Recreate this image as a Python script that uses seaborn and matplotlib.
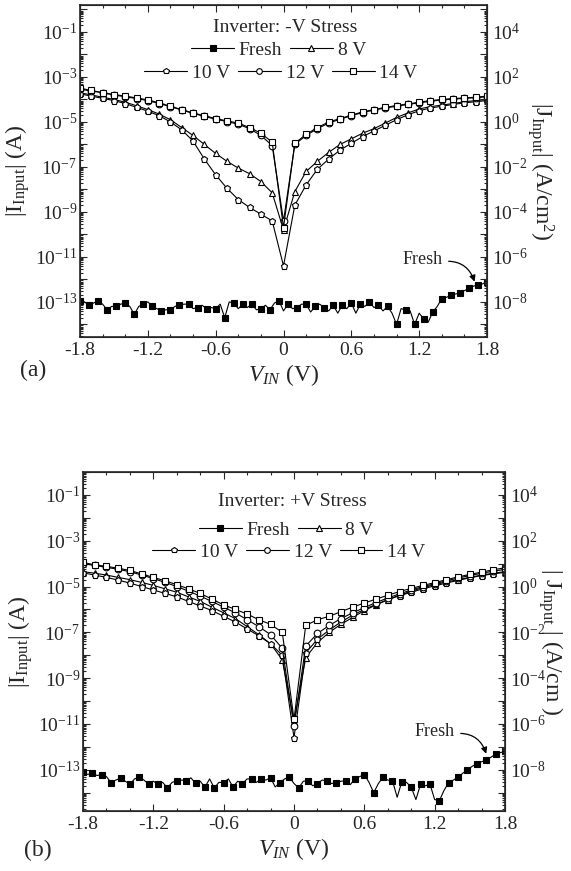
import numpy as np
import pandas as pd
import matplotlib
matplotlib.use("Agg")
import matplotlib.pyplot as plt
from matplotlib import ticker
import seaborn as sns

sns.set_style("ticks")
plt.rcParams["font.family"] = ["Liberation Serif", "DejaVu Serif"]
plt.rcParams["mathtext.fontset"] = "custom"
plt.rcParams["mathtext.rm"] = "Liberation Serif"
plt.rcParams["mathtext.it"] = "Liberation Serif:italic"
plt.rcParams["mathtext.bf"] = "Liberation Serif:bold"

# ---- data (log10 of |I_input| in A) ----
v_fresh = np.linspace(-1.8, 1.8, 91)      # 0.04 V steps
v_stress = np.linspace(-1.8, 1.8, 37)     # 0.1 V steps

# panel (a): -V stress
fresh_a = [-12.95, -13.0, -13.15, -13.05, -12.95, -13.1, -13.35, -13.2, -13.2, -13.1,
           -13.05, -13.2, -13.55, -13.2, -13.1, -13.0, -13.2, -13.3, -13.4, -13.35,
           -13.35, -13.2, -13.15, -13.1, -13.1, -13.3, -13.25, -13.15, -13.3, -13.25,
           -13.3, -13.1, -13.7, -13.0, -13.05, -13.3, -13.1, -13.25, -13.1, -13.35,
           -13.3, -13.15, -13.35, -13.05, -12.95, -13.4, -13.1, -13.3, -13.25, -13.1,
           -13.1, -13.45, -13.2, -13.1, -13.25, -13.4, -13.15, -13.5, -13.15, -13.3,
           -13.05, -13.5, -13.1, -13.2, -13.0, -13.25, -13.15, -13.4, -13.2, -13.5,
           -14.0, -13.3, -13.35, -13.4, -14.0, -13.5, -13.75, -13.9, -13.45, -13.2,
           -12.85, -12.8, -12.7, -12.65, -12.6, -12.5, -12.4, -12.3, -12.25, -12.2, -12.1]
v8_a = [-3.7, -3.8, -3.9, -4.0, -4.12, -4.28, -4.45, -4.65, -4.9, -5.25,
        -5.6, -6.0, -6.4, -6.75, -7.05, -7.3, -7.65, -8.15, -9.8, -8.1,
        -7.2, -6.75, -6.35, -6.0, -5.75, -5.5, -5.3, -5.05, -4.8, -4.6,
        -4.42, -4.32, -4.25, -4.18, -4.1, -4.05, -4.0]
v10_a = [-3.75, -3.85, -3.95, -4.05, -4.18, -4.35, -4.52, -4.72, -5.0, -5.35,
         -5.85, -6.65, -7.35, -7.95, -8.45, -8.8, -9.1, -9.4, -11.4, -8.7,
         -7.8, -7.1, -6.65, -6.25, -5.95, -5.65, -5.4, -5.15, -4.9, -4.68,
         -4.5, -4.38, -4.3, -4.22, -4.15, -4.1, -4.05]
v12_a = [-3.55, -3.62, -3.7, -3.8, -3.88, -3.96, -4.05, -4.18, -4.32, -4.47,
         -4.62, -4.75, -4.88, -4.98, -5.1, -5.3, -5.6, -6.05, -9.4, -6.0,
         -5.6, -5.3, -5.05, -4.88, -4.72, -4.58, -4.47, -4.38, -4.3, -4.22,
         -4.15, -4.08, -4.02, -3.98, -3.95, -3.92, -3.88]
v14_a = [-3.5, -3.6, -3.7, -3.78, -3.85, -3.93, -4.02, -4.15, -4.3, -4.45,
         -4.6, -4.72, -4.85, -4.95, -5.05, -5.25, -5.5, -5.9, -9.7, -5.95,
         -5.55, -5.25, -5.0, -4.85, -4.7, -4.55, -4.45, -4.35, -4.27, -4.2,
         -4.12, -4.05, -4.0, -3.96, -3.93, -3.9, -3.85]

# panel (b): +V stress
fresh_b = [-13.1, -13.2, -13.16, -13.25, -13.21, -13.3, -13.56, -13.45, -13.37, -13.5,
           -13.63, -13.4, -13.32, -13.45, -13.63, -13.5, -13.63, -13.55, -13.79, -13.55,
           -13.48, -13.45, -13.48, -13.35, -13.59, -13.5, -13.76, -13.4, -13.79, -13.55,
           -13.56, -13.4, -13.75, -13.5, -13.6, -13.4, -13.4, -13.55, -13.4, -13.45,
           -13.35, -13.75, -13.56, -13.4, -13.32, -13.6, -13.79, -13.5, -13.48, -13.7,
           -13.6, -13.45, -13.48, -13.6, -13.56, -13.5, -13.48, -13.65, -13.4, -13.3,
           -13.21, -13.55, -14.0, -13.6, -13.32, -13.45, -13.48, -14.2, -13.52, -13.55,
           -13.76, -14.3, -13.63, -13.7, -13.63, -14.3, -14.35, -13.9, -13.56, -13.45,
           -13.32, -13.15, -13.0, -12.85, -12.73, -12.65, -12.57, -12.45, -12.32, -12.25, -12.2]
v8_b = [-4.35, -4.42, -4.5, -4.6, -4.7, -4.82, -4.95, -5.1, -5.25, -5.45,
        -5.65, -5.9, -6.15, -6.4, -6.75, -7.1, -7.5, -8.2, -10.9, -8.1,
        -7.45, -7.0, -6.65, -6.35, -6.05, -5.8, -5.58, -5.38, -5.2, -5.05,
        -4.92, -4.8, -4.7, -4.6, -4.5, -4.42, -4.35]
v10_b = [-4.4, -4.5, -4.6, -4.72, -4.85, -5.0, -5.15, -5.3, -5.45, -5.65,
         -5.85, -6.05, -6.3, -6.55, -6.85, -7.15, -7.5, -8.0, -11.6, -7.9,
         -7.3, -6.9, -6.55, -6.25, -6.0, -5.78, -5.57, -5.4, -5.25, -5.1,
         -4.97, -4.85, -4.73, -4.62, -4.52, -4.45, -4.38]
v12_b = [-4.0, -4.08, -4.16, -4.25, -4.35, -4.5, -4.65, -4.82, -5.0, -5.2,
         -5.42, -5.65, -5.9, -6.15, -6.45, -6.75, -7.1, -7.7, -11.1, -7.6,
         -7.05, -6.7, -6.4, -6.15, -5.92, -5.7, -5.5, -5.32, -5.15, -5.0,
         -4.88, -4.75, -4.63, -4.52, -4.42, -4.33, -4.25]
v14_b = [-3.95, -4.05, -4.12, -4.2, -4.3, -4.45, -4.6, -4.75, -4.92, -5.1,
         -5.3, -5.55, -5.8, -6.0, -6.2, -6.45, -6.65, -7.0, -10.8, -6.7,
         -6.45, -6.3, -6.1, -5.9, -5.72, -5.55, -5.38, -5.22, -5.08, -4.95,
         -4.83, -4.7, -4.58, -4.47, -4.37, -4.27, -4.18]

area = 1e-5  # cm^2, J = I / area

styles = {
    "Fresh": dict(marker="s", markerfacecolor="black"),
    "8 V": dict(marker="^", markerfacecolor="white"),
    "10 V": dict(marker="p", markerfacecolor="white"),
    "12 V": dict(marker="o", markerfacecolor="white"),
    "14 V": dict(marker="s", markerfacecolor="white"),
}


def log_fmt(parity):
    def f(v, pos):
        e = int(np.round(np.log10(v)))
        if e % 2 == parity:
            return r"$\mathregular{10^{%d}}$" % e
        return ""
    return f


def setup_logaxis(a, parity):
    a.set_yscale("log")
    a.yaxis.set_major_locator(ticker.LogLocator(base=10, numticks=40))
    a.yaxis.set_minor_locator(ticker.LogLocator(base=10, subs=np.arange(2, 10), numticks=40))
    a.yaxis.set_major_formatter(ticker.FuncFormatter(log_fmt(parity)))
    a.yaxis.set_minor_formatter(ticker.NullFormatter())


def draw_panel(rect, fresh, s8, s10, s12, s14, ylog, title, ylab_r, rpad, tag, tagpos,
               leg_pos, fresh_txt, fresh_tip):
    ax = fig.add_axes(rect)
    series = [("Fresh", v_fresh, fresh), ("8 V", v_stress, s8), ("10 V", v_stress, s10),
              ("12 V", v_stress, s12), ("14 V", v_stress, s14)]
    for name, vv, vals in series:
        df = pd.DataFrame({"V": vv, "I": 10 ** np.array(vals)})
        sns.lineplot(data=df, x="V", y="I", ax=ax, color="black", linewidth=0.8,
                     markersize=4.8, markeredgecolor="black", markeredgewidth=0.8,
                     markevery=2 if name == "Fresh" else 1, estimator=None, sort=False,
                     label=name, legend=False, **styles[name])
    setup_logaxis(ax, 1)
    ax.set_xlim(-1.8, 1.8)
    ax.set_ylim(10 ** ylog[0], 10 ** ylog[1])

    ax.xaxis.set_major_locator(ticker.MultipleLocator(0.6))
    ax.xaxis.set_minor_locator(ticker.MultipleLocator(0.2))
    ax.xaxis.set_major_formatter(ticker.FuncFormatter(
        lambda v, p: "0" if abs(v) < 1e-9 else f"{v:.1f}"))
    ax.tick_params(which="both", direction="in", top=True, right=False, labelsize=14, width=0.8)
    ax.tick_params(axis="y", pad=2)
    ax.tick_params(which="major", length=5)
    ax.tick_params(which="minor", length=2.5)
    for s in ax.spines.values():
        s.set_linewidth(1.2)

    ax.set_xlabel(r"$V_{IN}$ (V)", fontsize=17, labelpad=2)
    ax.set_ylabel(r"|I$_{\mathregular{Input}}$| (A)", fontsize=17, labelpad=2)

    ax2 = ax.twinx()
    setup_logaxis(ax2, 0)
    ax2.set_ylim(10 ** ylog[0] / area, 10 ** ylog[1] / area)
    ax2.tick_params(which="both", direction="in", labelsize=14, width=0.8)
    ax2.tick_params(which="major", length=5)
    ax2.tick_params(which="minor", length=2.5)
    ax2.set_ylabel(ylab_r, fontsize=17, rotation=-90, labelpad=rpad)

    # legend: title + two rows
    handles, labels = ax.get_legend_handles_labels()
    ax.text(leg_pos[0][0], leg_pos[0][1], title, transform=ax.transAxes,
            ha="center", va="center", fontsize=14)
    kw = dict(frameon=False, fontsize=14, handlelength=2.2, handletextpad=0.25,
              columnspacing=0.4, borderpad=0, borderaxespad=0, loc="center",
              markerscale=0.85)
    leg1 = ax.legend(handles[:2], labels[:2], ncol=2, bbox_to_anchor=leg_pos[1], **kw)
    ax.add_artist(leg1)
    ax.legend(handles[2:], labels[2:], ncol=3, bbox_to_anchor=leg_pos[2], **kw)

    ax.annotate("Fresh", xy=(fresh_tip[0], 10 ** fresh_tip[1]),
                xytext=(fresh_txt[0], 10 ** fresh_txt[1]), ha="center", va="center",
                fontsize=13,
                arrowprops=dict(arrowstyle="-|>", color="black", lw=0.9,
                                connectionstyle="arc3,rad=-0.4", relpos=(1.0, 0.4),
                                shrinkA=2, shrinkB=0, mutation_scale=9))
    fig.text(tagpos[0], tagpos[1], tag, fontsize=17, ha="center", va="center")
    return ax


fig = plt.figure(figsize=(5.71, 8.71), dpi=100)
W, H = 571.0, 871.0

draw_panel([80 / W, 1 - 337 / H, 407 / W, 332 / H], fresh_a, v8_a, v10_a, v12_a, v14_a,
           (-14.56, 0.2), "Inverter: -V Stress",
           r"|J$_{\mathregular{Input}}$| (A/cm$^{\mathregular{2}}$)", 20,
           "(a)", (33 / W, 1 - 370 / H),
           [(0.504, 0.931), (0.488, 0.864), (0.494, 0.795)],
           (1.23, -11.13), (1.69, -12.1))

draw_panel([83 / W, 1 - 811 / H, 422 / W, 339 / H], fresh_b, v8_b, v10_b, v12_b, v14_b,
           (-14.8, 0.0), "Inverter: +V Stress",
           r"| J$_{\mathregular{Input}}$ | (A/cm )", 14,
           "(b)", (38 / W, 1 - 850 / H),
           [(0.495, 0.912), (0.482, 0.829), (0.488, 0.764)],
           (1.2, -11.35), (1.64, -12.3))

fig.savefig("out.png", dpi=100)
